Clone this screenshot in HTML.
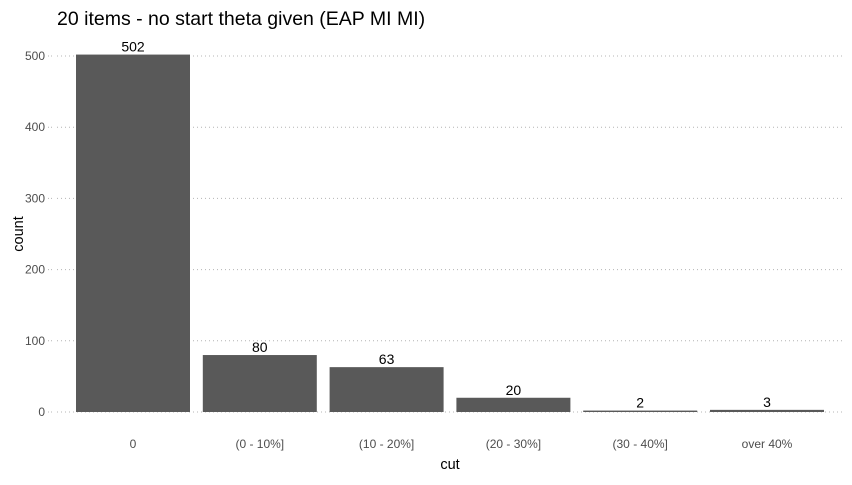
<!DOCTYPE html>
<html><head><meta charset="utf-8"><style>
body{margin:0;background:#fff;font-family:"Liberation Sans",Arial,sans-serif}
</style></head><body>
<svg id="chart" width="852" height="480" xmlns="http://www.w3.org/2000/svg" font-family="Liberation Sans, Arial, sans-serif">
<text x="57" y="25" font-size="19.5" fill="#000">20 items - no start theta given (EAP MI MI)</text>
<g id="grid"></g><g id="bars"></g><g id="labels"></g><g id="yticks"></g><g id="xticks"></g>
<text transform="translate(23,234) rotate(-90)" text-anchor="middle" font-size="14.5" fill="#000">count</text>
<text x="450" y="469" text-anchor="middle" font-size="14.5" fill="#000">cut</text>
</svg>
<script>
const categories=["0","(0 - 10%]","(10 - 20%]","(20 - 30%]","(30 - 40%]","over 40%"];
const counts=[502,80,63,20,2,3];
const yTicks=[0,100,200,300,400,500];
const ns="http://www.w3.org/2000/svg";
const y0=412,yScale=(412-56)/500;
const y=v=>y0-v*yScale;
const step=126.8,x0=133;
const x=i=>x0+i*step;
const bw=114,left=57,right=843;
function mk(tag,attrs,parent,text){const e=document.createElementNS(ns,tag);for(const k in attrs)e.setAttribute(k,attrs[k]);if(text!==undefined)e.textContent=text;document.getElementById(parent).appendChild(e);return e;}
yTicks.forEach(t=>{
 const g=mk("line",{x1:left,x2:right,y1:y(t),y2:y(t),stroke:"#b4b4b4","stroke-dasharray":"1,3","stroke-width":1},"grid");
 
 
 const l=mk("text",{x:45,y:y(t)+4,"text-anchor":"end","font-size":12,fill:"#4d4d4d"},"yticks",t);
 
 
 const tk=mk("line",{x1:48,x2:52,y1:y(t),y2:y(t),stroke:"#b4b4b4","stroke-dasharray":"1,2"},"yticks");
 
 
});
categories.forEach((c,i)=>{
 const v=counts[i];
 const r=mk("rect",{x:x(i)-bw/2,y:y(v),width:bw,height:Math.max(y0-y(v),0),fill:"#595959"},"bars");
 
 
 const t=mk("text",{x:x(i),y:y(v)-3,"text-anchor":"middle","font-size":14,fill:"#000"},"labels",v);
 
 
 const xl=mk("text",{x:x(i),y:448,"text-anchor":"middle","font-size":12,fill:"#4d4d4d"},"xticks",c);
 
 
});
</script>
</body></html>
